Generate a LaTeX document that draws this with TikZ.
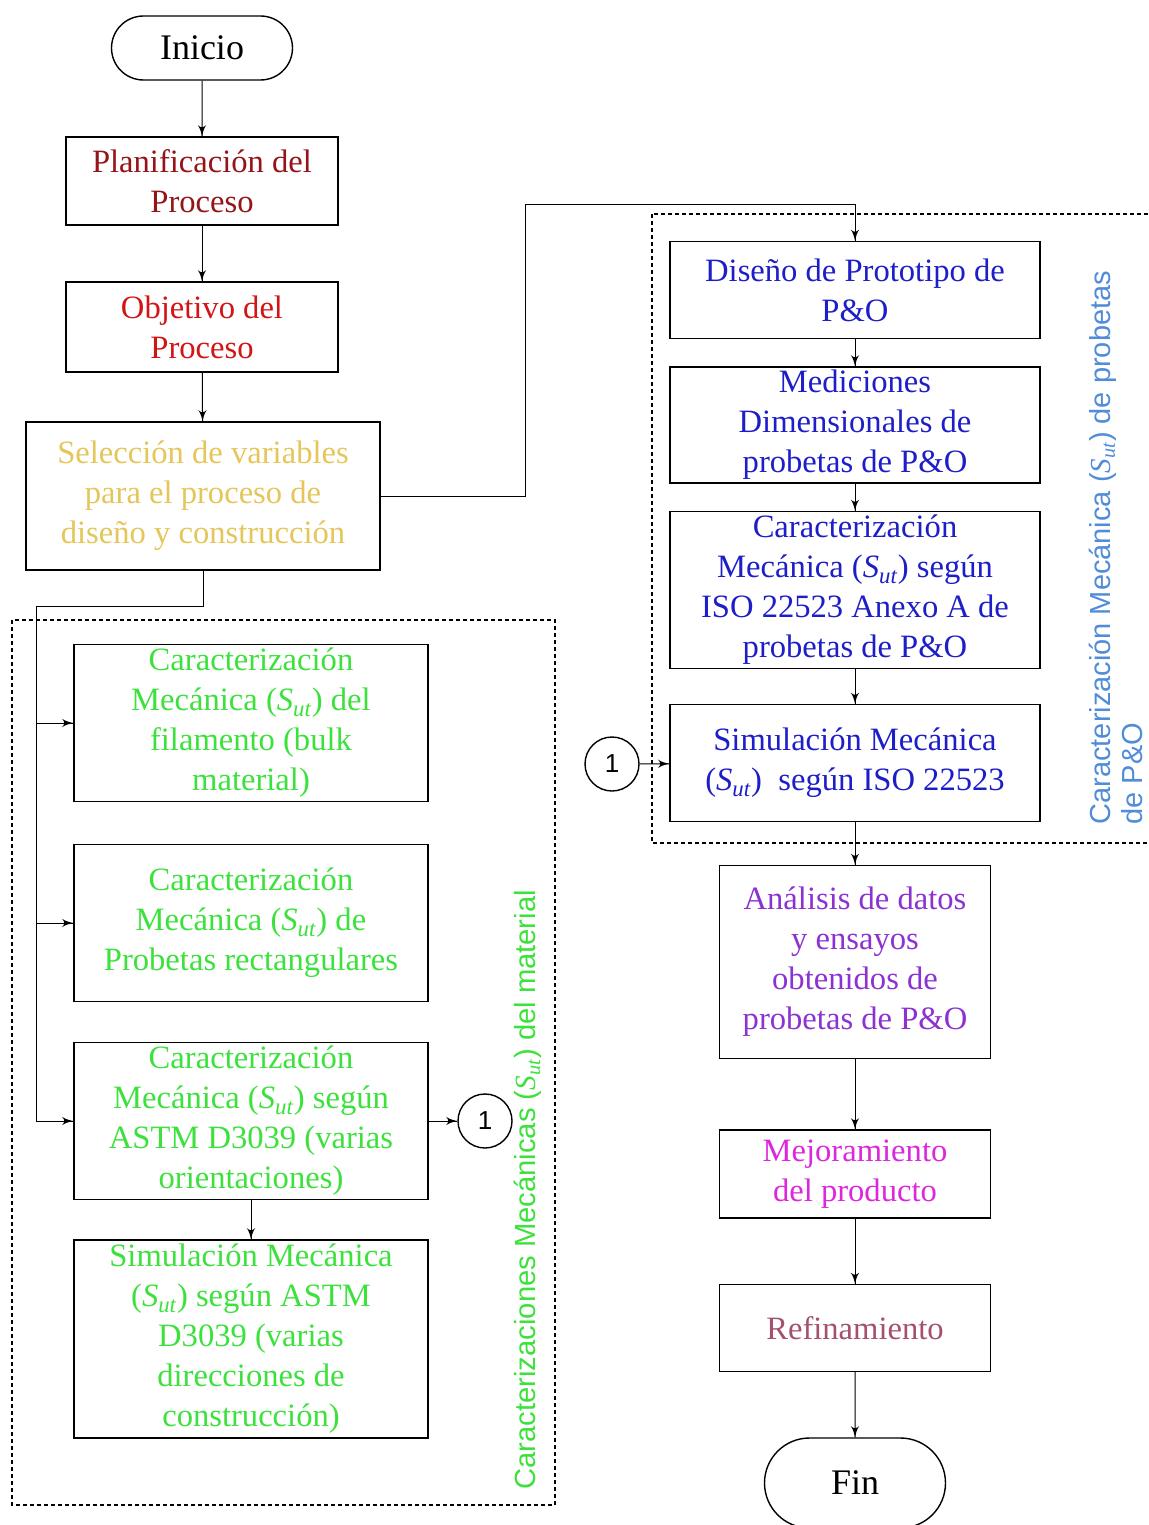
\documentclass[tikz,border=0pt]{standalone}
\usepackage{fontspec}
\setmainfont{Liberation Serif}
\setsansfont{Liberation Sans}
\usepackage{tikz}
\usetikzlibrary{arrows}
\usetikzlibrary{decorations.markings}
\usetikzlibrary{shapes.misc}
\tikzset{->/.style = {decoration={markings,
                                  mark=at position 1 with {\arrow[scale=1.3]{latex'}}},
                      postaction={decorate}}}
\tikzset{caja/.style = {draw, line width=0.7pt, align=center, inner sep=0pt,
                        font=\fontsize{16.3}{20}\selectfont}}
\tikzset{terminal/.style = {draw, rounded rectangle, line width=0.7pt, inner sep=0pt,
                            font=\fontsize{18}{22}\selectfont}}
\tikzset{conector/.style = {draw, circle, line width=0.7pt, minimum size=27pt, inner sep=0pt,
                            font=\sffamily\fontsize{13}{15}\selectfont}}
\tikzset{grupo/.style = {dash pattern=on 2pt off 1.5pt, line width=0.6pt}}
\tikzset{rotulo/.style = {rotate=90, anchor=west, inner sep=0pt, align=left,
                          font=\sffamily\fontsize{14.5}{16}\selectfont}}
\definecolor{mgranate}{RGB}{150,20,25}
\definecolor{mrojo}{RGB}{210,20,20}
\definecolor{moro}{RGB}{228,198,90}
\definecolor{mazul}{RGB}{30,30,200}
\definecolor{mazulclaro}{RGB}{80,140,215}
\definecolor{mverde}{RGB}{60,225,60}
\definecolor{mmorado}{RGB}{140,50,210}
\definecolor{mmagenta}{RGB}{220,40,220}
\definecolor{mmalva}{RGB}{165,80,110}
\newcommand{\Sut}{{\rmfamily\itshape S\textsubscript{ut}}}

\begin{document}
\begin{tikzpicture}[x=0.5pt, y=-0.5pt, line width=0.5pt]
  \useasboundingbox (0,0) rectangle (1148,1525);

  \node [terminal, minimum width=90.5pt, minimum height=32pt] (inicio) at (202,48) {Inicio};
  \node [caja, text=mgranate, minimum width=136pt, minimum height=44pt] (plan) at (202,181)
        {Planificación del\\Proceso};
  \node [caja, text=mrojo, minimum width=136pt, minimum height=45pt] (obj) at (202,327)
        {Objetivo del\\Proceso};
  \node [caja, text=moro, minimum width=177pt, minimum height=74pt] (sel) at (203,496)
        {Selección de variables\\para el proceso de\\diseño y construcción};

  \draw [grupo] (12,620) rectangle (555,1505);
  \draw [grupo] (652,214) rectangle (1160,843);

  \node [caja, text=mverde, minimum width=177pt, minimum height=78.5pt] (filam) at (251,723)
        {Caracterización\\Mecánica (\Sut) del\\filamento (bulk\\material)};
  \node [caja, text=mverde, minimum width=177pt, minimum height=78.5pt] (rectang) at (251,923)
        {Caracterización\\Mecánica (\Sut) de\\Probetas rectangulares};
  \node [caja, text=mverde, minimum width=177pt, minimum height=78.5pt] (astm) at (251,1121)
        {Caracterización\\Mecánica (\Sut) según\\ASTM D3039 (varias\\orientaciones)};
  \node [caja, text=mverde, minimum width=177pt, minimum height=99pt] (simastm) at (251,1339)
        {Simulación Mecánica\\(\Sut) según ASTM\\D3039 (varias\\direcciones de\\construcción)};
  \node [conector] (uno) at (485,1121) {1};
  \node [rotulo, text=mverde, font=\sffamily\fontsize{14.6}{16}\selectfont] (etiqmat) at (528,1490)
        {Caracterizaciones Mecánicas (\Sut) del material};

  \node [caja, text=mazul, minimum width=185pt, minimum height=48.5pt] (diseno) at (855,290)
        {Diseño de Prototipo de\\P\&O};
  \node [caja, text=mazul, minimum width=185pt, minimum height=58pt] (medic) at (855,425)
        {Mediciones\\Dimensionales de\\probetas de P\&O};
  \node [caja, text=mazul, minimum width=185pt, minimum height=78.5pt] (caraciso) at (855,590)
        {Caracterización\\Mecánica (\Sut) según\\ISO 22523 Anexo A de\\probetas de P\&O};
  \node [caja, text=mazul, minimum width=185pt, minimum height=58.5pt] (simiso) at (855,763)
        {Simulación Mecánica\\(\Sut)~ según ISO 22523};
  \node [conector] (unob) at (612,764) {1};
  \node [rotulo, text=mazulclaro] (etiqpo) at (1116,825)
        {Caracterización Mecánica (\Sut) de probetas\\de P\&O};

  \node [caja, text=mmorado, minimum width=135.5pt, minimum height=96.5pt] (analisis) at (855,962)
        {Análisis de datos\\y ensayos\\obtenidos de\\probetas de P\&O};
  \node [caja, text=mmagenta, minimum width=135.5pt, minimum height=44pt] (mejora) at (855,1174)
        {Mejoramiento\\del producto};
  \node [caja, text=mmalva, minimum width=135.5pt, minimum height=43.5pt] (refin) at (855,1328)
        {Refinamiento};
  \node [terminal, minimum width=90.5pt, minimum height=45pt] (fin) at (855,1483) {Fin};

  \draw [->] (inicio) -- (plan);
  \draw [->] (plan) -- (obj);
  \draw [->] (obj) -- (sel);

  \coordinate (codo) at (525,204);
  \draw [->] (sel.east) -| (codo) -| (diseno.north);

  \coordinate (rama) at (36,606);
  \draw (sel.south) |- (rama) -- (rama |- astm.west);
  \draw [->] (rama |- filam.west) -- (filam.west);
  \draw [->] (rama |- rectang.west) -- (rectang.west);
  \draw [->] (rama |- astm.west) -- (astm.west);
  \draw [->] (astm) -- (simastm);
  \draw [->] (astm) -- (uno);

  \draw [->] (unob) -- (simiso);
  \draw [->] (diseno) -- (medic);
  \draw [->] (medic) -- (caraciso);
  \draw [->] (caraciso) -- (simiso);
  \draw [->] (simiso) -- (analisis);
  \draw [->] (analisis) -- (mejora);
  \draw [->] (mejora) -- (refin);
  \draw [->] (refin) -- (fin);
\end{tikzpicture}
\end{document}
